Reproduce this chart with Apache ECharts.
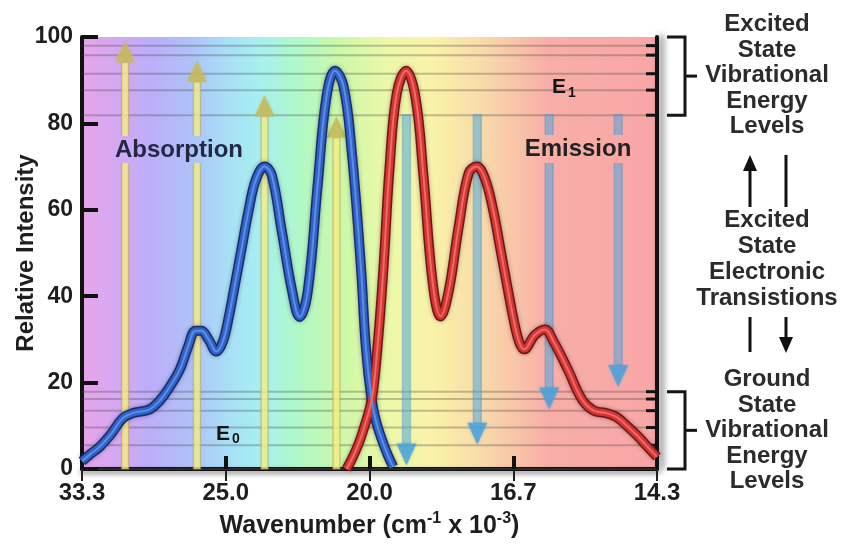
<!DOCTYPE html>
<html>
<head>
<meta charset="utf-8">
<title>Absorption and Emission</title>
<script src="https://cdn.jsdelivr.net/npm/echarts@6/dist/echarts.min.js"></script>
<style>
html, body { margin: 0; padding: 0; background: #fff; }
#chart { width: 846px; height: 546px; }
</style>
</head>
<body>
<div id="chart"></div>
<script>
// the x axis is linear in wavelength (nm); its labels are wavenumbers (cm-1 x 10-3)
var xTicks = [300, 400, 500, 600, 700];
var xTickLabels = ['33.3', '25.0', '20.0', '16.7', '14.3'];
var yTicks = [0, 20, 40, 60, 80, 100];

// [wavelength nm, relative intensity]
var absorption = [
	[300, 1.8], [306, 3.5], [312.5, 5.2], [320, 8], [328.5, 11.8], [336, 13], [347, 13.8],
	[354, 15.8], [360, 18.5], [368, 23], [374, 28.5], [379, 32], [383, 32], [388, 30],
	[393.5, 27.2], [398, 29.5], [402, 35], [406, 42], [411, 51], [416, 60], [421, 67], [427, 70],
	[432, 68], [439, 55], [446, 41.5], [451.4, 35.2], [457, 41], [464, 66], [470, 86],
	[476, 92.2], [482, 88.5], [487.5, 74], [494, 47], [497.5, 28], [501.5, 16], [505, 10.5],
	[509.5, 6], [513, 3], [516.5, 0.5]
];
var emission = [
	[484, 0], [488, 2.5], [492, 5.5], [495.7, 9], [501.5, 16], [505.5, 28], [509.6, 46],
	[514, 70], [519, 87], [525.5, 92.2], [532, 86], [537.5, 68], [544, 43], [549.5, 35.3],
	[555, 41], [562, 56], [569, 68.5], [574.5, 70], [580, 67.5], [586, 60], [591, 51],
	[596, 42], [600, 35], [604, 29.5], [607.5, 27.7], [615, 31], [622, 32.3], [628, 29.5],
	[638, 23], [648, 16], [656, 13.5], [664, 13], [672, 12], [679, 10], [686, 7.8],
	[693, 5.3], [700, 2.8]
];

// vibrational levels (relative intensity units)
var e1Levels = [98, 95.8, 91.5, 87.7, 81.9];
var e0Levels = [17.9, 16.2, 13.5, 9.6, 5.5];

// [wavelength, from, to]
var absArrows = [[330, 0, 99], [380, 0, 94.5], [427, 0, 86.5], [477, 0, 81.6]];
var emArrows = [[525.7, 82, 0.8], [575, 82, 5.6], [625, 82, 13.8], [673, 82, 19]];

var W = 846, H = 546;
var GL = 82, GR = 657, GT = 37, GB = 469;
var FONT = '"Liberation Sans", Arial, Helvetica, sans-serif';
var bgStops = [
	{ offset: 0, color: '#e6a4ea' },
	{ offset: 0.06, color: '#d6a8f2' },
	{ offset: 0.12, color: '#bcaefa' },
	{ offset: 0.19, color: '#aec2f8' },
	{ offset: 0.25, color: '#a8def7' },
	{ offset: 0.31, color: '#a6f0f0' },
	{ offset: 0.37, color: '#aef8cc' },
	{ offset: 0.45, color: '#ccf8a8' },
	{ offset: 0.53, color: '#ecf8a8' },
	{ offset: 0.61, color: '#faf2a8' },
	{ offset: 0.69, color: '#f8dcaa' },
	{ offset: 0.75, color: '#f8c6a8' },
	{ offset: 0.81, color: '#f8aea8' },
	{ offset: 1, color: '#f8a6a6' }
];

function bgFill(global) {
	if (global) return new echarts.graphic.LinearGradient(GL, 0, GR, 0, bgStops, true);
	return new echarts.graphic.LinearGradient(0, 0, 1, 0, bgStops);
}

function arrowRenderer(shaftFill, shaftEdge, headFill, shaftW, headW, headL) {
	return function (params, api) {
		var p0 = api.coord([api.value(0), api.value(1)]);
		var p1 = api.coord([api.value(0), api.value(2)]);
		var dir = p1[1] < p0[1] ? -1 : 1;
		var baseY = p1[1] - dir * headL;
		return {
			type: 'group',
			children: [{
				type: 'rect',
				shape: { x: p0[0] - shaftW / 2, y: Math.min(p0[1], baseY), width: shaftW, height: Math.abs(baseY - p0[1]) },
				style: { fill: shaftFill, stroke: shaftEdge, lineWidth: 1.5 }
			}, {
				type: 'polygon',
				shape: { points: [[p1[0], p1[1]], [p1[0] - headW / 2, baseY], [p1[0] + headW / 2, baseY]] },
				style: { fill: headFill, shadowBlur: 3, shadowColor: headFill }
			}]
		};
	};
}

function curve(name, data, color, width, z, shadow) {
	var ls = { color: color, width: width };
	if (shadow) { ls.shadowBlur = 4; ls.shadowColor = 'rgba(0,0,0,0.35)'; }
	return {
		name: name, type: 'line', data: data, smooth: 0.4, symbol: 'none', silent: true,
		lineStyle: ls, z: z, clip: true
	};
}

var chart = echarts.init(document.getElementById('chart'));

var levels = e1Levels.concat(e0Levels).map(function (v) { return [xTicks[0], xTicks[xTicks.length - 1], v]; });

var option = {
	animation: false,
	grid: {
		left: GL, right: W - GR, top: GT, bottom: H - GB, containLabel: false, outerBoundsMode: 'none',
		show: true, borderWidth: 0, backgroundColor: bgFill(false)
	},
	xAxis: [{
		type: 'value', position: 'bottom',
		min: xTicks[0], max: xTicks[xTicks.length - 1], interval: xTicks[1] - xTicks[0],
		axisLine: { show: true, onZero: false, lineStyle: { color: '#111', width: 4, shadowColor: 'rgba(0,0,0,0.45)', shadowBlur: 5, shadowOffsetY: 3 } },
		axisTick: { show: true, inside: true, length: 13, lineStyle: { color: '#111', width: 4 } },
		axisLabel: {
			formatter: function (v) { var i = xTicks.indexOf(v); return i < 0 ? '' : xTickLabels[i]; },
			fontSize: 24, fontWeight: 'bold', color: '#1e1e1e', margin: 12, fontFamily: FONT
		},
		splitLine: { show: false },
		name: '{a|Wavenumber (cm}{s|-1}{a| x 10}{s|-3}{a|)}',
		nameLocation: 'middle', nameGap: 42, nameMoveOverlap: false,
		nameTextStyle: {
			rich: {
				a: { fontSize: 25, fontWeight: 'bold', color: '#1e1e1e', lineHeight: 30, fontFamily: FONT },
				s: { fontSize: 16, fontWeight: 'bold', color: '#1e1e1e', lineHeight: 16, verticalAlign: 'top', fontFamily: FONT }
			}
		}
	}, {
		type: 'value', position: 'top',
		min: xTicks[0], max: xTicks[xTicks.length - 1], interval: xTicks[1] - xTicks[0],
		axisLine: { show: true, lineStyle: { color: '#2a2a2a', width: 2 } },
		axisTick: { show: true, inside: true, length: 12, lineStyle: { color: '#222', width: 2 } },
		axisLabel: { show: false },
		splitLine: { show: false }
	}],
	yAxis: [{
		type: 'value', position: 'left',
		min: yTicks[0], max: yTicks[yTicks.length - 1], interval: yTicks[1] - yTicks[0],
		axisLine: { show: true, onZero: false, lineStyle: { color: '#111', width: 4 } },
		axisTick: { show: true, inside: true, length: 16, lineStyle: { color: '#111', width: 4 } },
		axisLabel: { fontSize: 23, fontWeight: 'bold', color: '#1e1e1e', margin: 9, fontFamily: FONT },
		splitLine: { show: false },
		name: 'Relative Intensity', nameLocation: 'middle', nameGap: 44, nameMoveOverlap: false,
		nameTextStyle: { fontSize: 24, fontWeight: 'bold', color: '#1e1e1e', fontFamily: FONT }
	}, {
		type: 'value', position: 'right',
		min: yTicks[0], max: yTicks[yTicks.length - 1],
		axisLine: { show: true, onZero: false, lineStyle: { color: '#111', width: 4, shadowColor: 'rgba(0,0,0,0.6)', shadowBlur: 7, shadowOffsetX: 4 } },
		axisTick: { show: false }, axisLabel: { show: false }, splitLine: { show: false }
	}],
	series: [{
		name: 'levels', type: 'custom', silent: true, z: 1,
		data: levels, encode: { x: [0, 1], y: 2 },
		renderItem: function (params, api) {
			var a = api.coord([api.value(0), api.value(2)]);
			var b = api.coord([api.value(1), api.value(2)]);
			return {
				type: 'group',
				children: [{
					type: 'line', shape: { x1: a[0], y1: a[1], x2: b[0], y2: b[1] },
					style: { stroke: 'rgba(70,70,70,0.32)', lineWidth: 2 }
				}, {
					type: 'line', shape: { x1: b[0] - 11, y1: b[1], x2: b[0], y2: b[1] },
					style: { stroke: '#111', lineWidth: 3 }
				}]
			};
		}
	}, {
		name: 'absorption arrows', type: 'custom', silent: true, z: 2,
		data: absArrows, encode: { x: 0, y: [1, 2] },
		renderItem: arrowRenderer('rgba(246,236,130,0.82)', 'rgba(170,150,80,0.45)', 'rgba(196,186,92,0.8)', 7, 20, 21)
	}, {
		name: 'emission arrows', type: 'custom', silent: true, z: 2,
		data: emArrows, encode: { x: 0, y: [1, 2] },
		renderItem: arrowRenderer('rgba(76,168,222,0.55)', 'rgba(70,140,190,0.35)', 'rgba(70,160,218,0.75)', 8, 20, 22)
	},
		curve('Absorption edge', absorption, '#1b2a6c', 10, 3, true),
		curve('Absorption', absorption, '#2f62c8', 7, 4, false),
		curve('Absorption glint', absorption, '#5d8ee6', 2, 5, false),
		curve('Emission edge', emission, '#6e1616', 10, 3, true),
		curve('Emission', emission, '#d43434', 7, 4, false),
		curve('Emission glint', emission, '#ee6c62', 2, 5, false)
	]
};
chart.setOption(option);

// annotations
function yPix(v) { return chart.convertToPixel({ yAxisIndex: 0 }, v); }
var e1Top = yPix(yTicks[yTicks.length - 1]), e1Bot = yPix(Math.min.apply(null, e1Levels));
var e0Top = yPix(Math.max.apply(null, e0Levels)), e0Bot = yPix(yTicks[0]);

function bracket(top, bot) {
	var mid = (top + bot) / 2;
	return [{
		type: 'polyline', z: 100,
		shape: { points: [[667, top], [685, top], [685, bot], [667, bot]] },
		style: { stroke: '#151515', lineWidth: 3, fill: null }
	}, {
		type: 'line', z: 100,
		shape: { x1: 685, y1: mid, x2: 697, y2: mid },
		style: { stroke: '#151515', lineWidth: 3 }
	}];
}

function txt(x, y, text, size, color, valign, lh) {
	return {
		type: 'text', x: x, y: y, z: 101,
		style: {
			text: text, font: 'bold ' + size + 'px ' + FONT, fill: color,
			align: 'center', textAlign: 'center',
			verticalAlign: valign || 'middle', textVerticalAlign: valign || 'middle',
			lineHeight: lh || size
		}
	};
}

function smallArrow(x, y0, y1, head) {
	var els = [];
	var dir = y1 < y0 ? -1 : 1;
	var stop = head ? y1 - dir * 16 : y1;
	els.push({ type: 'line', z: 100, shape: { x1: x, y1: y0, x2: x, y2: stop }, style: { stroke: '#111', lineWidth: 3 } });
	if (head) {
		els.push({ type: 'polygon', z: 100, shape: { points: [[x, y1], [x - 7, stop], [x + 7, stop]] }, style: { fill: '#111' } });
	}
	return els;
}

var graphics = [
	{ type: 'rect', z: 99, shape: { x: 111, y: 136, width: 136, height: 27 }, style: { fill: bgFill(true) } },
	{ type: 'rect', z: 99, shape: { x: 519, y: 135, width: 118, height: 28 }, style: { fill: bgFill(true) } },
	txt(179, 150, 'Absorption', 24, '#232845'),
	txt(578, 149, 'Emission', 24, '#222'),
	txt(559, 87, 'E', 21, '#151515'),
	txt(572, 93, '1', 14, '#151515'),
	txt(223, 434, 'E', 21, '#151515'),
	txt(236, 439, '0', 14, '#151515'),
	txt(767, 12, 'Excited\nState\nVibrational\nEnergy\nLevels', 24, '#2b2b2b', 'top', 25.5),
	txt(767, 207, 'Excited\nState\nElectronic\nTransistions', 24, '#2b2b2b', 'top', 26),
	txt(767, 367, 'Ground\nState\nVibrational\nEnergy\nLevels', 24, '#2b2b2b', 'top', 25.5)
]
	.concat(bracket(e1Top, e1Bot))
	.concat(bracket(e0Top, e0Bot))
	.concat(smallArrow(750, 207, 155, true))
	.concat(smallArrow(786, 155, 207, false))
	.concat(smallArrow(750, 317, 352, false))
	.concat(smallArrow(786, 317, 353, true));

chart.setOption({ graphic: graphics });
</script>
</body>
</html>
